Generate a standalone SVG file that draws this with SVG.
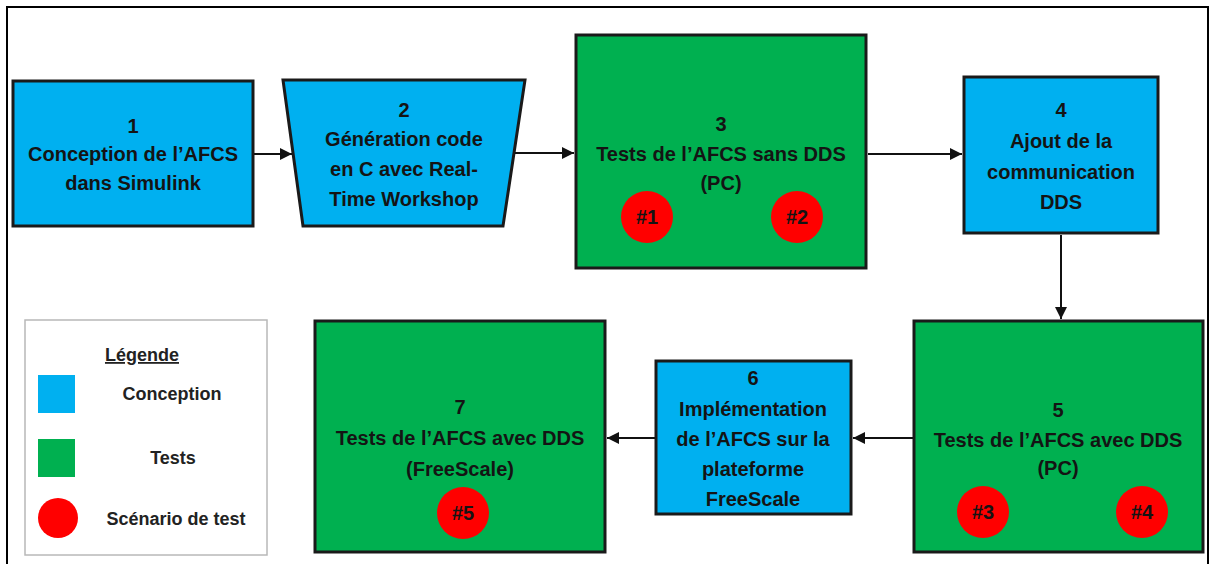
<svg xmlns="http://www.w3.org/2000/svg" width="1210" height="564" viewBox="0 0 1210 564">
<defs>
<style>
.blue{fill:#00b0f0;stroke:#1a1a1a;stroke-width:3}
.green{fill:#00b050;stroke:#1a1a1a;stroke-width:3}
.red{fill:#ff0000}
.t{font-family:"Liberation Sans",Arial,sans-serif;font-weight:bold;font-size:20px;fill:#141414;text-anchor:middle}
.lt{font-family:"Liberation Sans",Arial,sans-serif;font-weight:bold;font-size:18px;fill:#222;text-anchor:middle}
.c{stroke:#111;stroke-width:2;fill:none;marker-end:url(#ah)}
</style>
<marker id="ah" viewBox="0 0 10 10" refX="10" refY="5" markerWidth="6" markerHeight="6" orient="auto" markerUnits="strokeWidth">
<path d="M0,0 L10,5 L0,10 z" fill="#111"/>
</marker>
</defs>
<rect x="0" y="0" width="1210" height="564" fill="#ffffff"/>
<rect x="7" y="7" width="1201" height="600" fill="none" stroke="#000" stroke-width="2"/>

<g id="connectors">
<line class="c" x1="254" y1="154" x2="292" y2="154"/>
<line class="c" x1="515" y1="153" x2="574" y2="153"/>
<line class="c" x1="868" y1="154" x2="962" y2="154"/>
<line class="c" x1="1061" y1="235" x2="1061" y2="319"/>
<line class="c" x1="913" y1="438" x2="853" y2="438"/>
<line class="c" x1="655" y1="438" x2="607" y2="438"/>
</g>

<g id="node1">
<rect class="blue" x="13" y="81" width="240" height="145"/>
<text class="t" x="133" y="133">1</text>
<text class="t" x="133" y="161">Conception de l’AFCS</text>
<text class="t" x="133" y="190">dans Simulink</text>
</g>

<g id="node2">
<polygon class="blue" points="283,80 525,80 503,226 303,226"/>
<text class="t" x="404" y="117">2</text>
<text class="t" x="404" y="146">Génération code</text>
<text class="t" x="404" y="176">en C avec Real-</text>
<text class="t" x="404" y="206">Time Workshop</text>
</g>

<g id="node3">
<rect class="green" x="576" y="35" width="290" height="233"/>
<text class="t" x="721" y="131">3</text>
<text class="t" x="721" y="161">Tests de l’AFCS sans DDS</text>
<text class="t" x="721" y="190">(PC)</text>
<circle class="red" cx="647" cy="217" r="26"/>
<text class="t" x="647" y="224">#1</text>
<circle class="red" cx="797" cy="217" r="26"/>
<text class="t" x="797" y="224">#2</text>
</g>

<g id="node4">
<rect class="blue" x="964" y="77" width="194" height="156"/>
<text class="t" x="1061" y="117">4</text>
<text class="t" x="1061" y="148">Ajout de la</text>
<text class="t" x="1061" y="179">communication</text>
<text class="t" x="1061" y="209">DDS</text>
</g>

<g id="node5">
<rect class="green" x="914" y="321" width="289" height="231"/>
<text class="t" x="1058" y="417">5</text>
<text class="t" x="1058" y="447">Tests de l’AFCS avec DDS</text>
<text class="t" x="1058" y="475">(PC)</text>
<circle class="red" cx="983" cy="512" r="26"/>
<text class="t" x="983" y="519">#3</text>
<circle class="red" cx="1142" cy="512" r="26"/>
<text class="t" x="1142" y="519">#4</text>
</g>

<g id="node6">
<rect class="blue" x="656" y="361" width="195" height="153"/>
<text class="t" x="753" y="385">6</text>
<text class="t" x="753" y="416">Implémentation</text>
<text class="t" x="753" y="446">de l’AFCS sur la</text>
<text class="t" x="753" y="476">plateforme</text>
<text class="t" x="753" y="506">FreeScale</text>
</g>

<g id="node7">
<rect class="green" x="315" y="321" width="290" height="231"/>
<text class="t" x="460" y="414">7</text>
<text class="t" x="460" y="445">Tests de l’AFCS avec DDS</text>
<text class="t" x="460" y="476">(FreeScale)</text>
<circle class="red" cx="463" cy="513" r="26"/>
<text class="t" x="463" y="520">#5</text>
</g>

<g id="legend">
<rect x="25" y="320" width="242" height="235" fill="#fff" stroke="#b8b8b8" stroke-width="1.5"/>
<text class="lt" x="142" y="361" text-decoration="underline">Légende</text>
<rect x="38" y="375" width="37" height="38" fill="#00b0f0"/>
<text class="lt" x="172" y="400">Conception</text>
<rect x="38" y="439" width="37" height="38" fill="#00b050"/>
<text class="lt" x="173" y="464">Tests</text>
<circle class="red" cx="58" cy="518" r="20"/>
<text class="lt" x="176" y="525">Scénario de test</text>
</g>
</svg>
